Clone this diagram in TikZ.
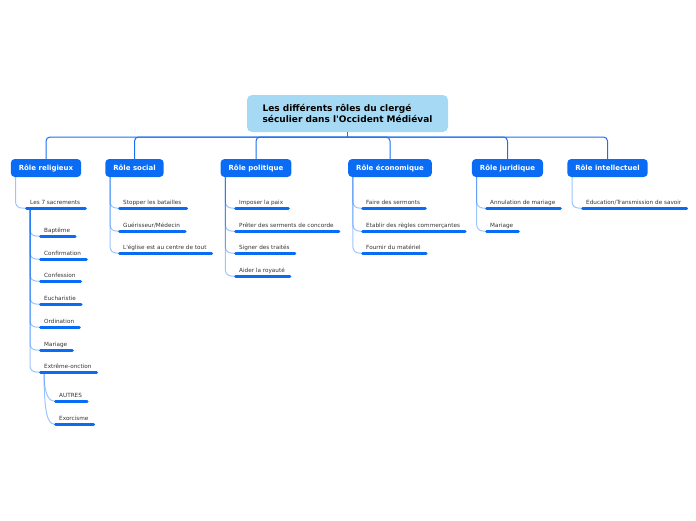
\documentclass[tikz,border=0pt]{standalone}
\usepackage{fontspec}
\setmainfont{DejaVu Sans}
\definecolor{rootblue}{HTML}{A6DAF4}
\definecolor{boxblue}{HTML}{0A6CF5}
\definecolor{busblue}{HTML}{1A70F0}
\definecolor{leafgrey}{HTML}{333333}
\tikzset{
  topic/.style={fill=rootblue, rounded corners=5pt, minimum width=201pt, minimum height=37pt,
    align=left, font=\fontsize{9}{11}\selectfont\bfseries},
  role/.style={fill=boxblue, text=white, rounded corners=4pt, minimum height=18pt,
    inner xsep=8pt, inner ysep=0pt, font=\fontsize{7}{8.5}\selectfont\bfseries},
  leaf/.style={anchor=south west, text=leafgrey, inner xsep=5pt, inner ysep=3pt,
    text height=4.5pt, text depth=0.5pt, font=\fontsize{5.7}{7}\selectfont},
  bar/.style={draw=boxblue, line width=3pt, line cap=round, shorten <=1.5pt, shorten >=0pt},
  bus/.style={draw=busblue, line width=1pt, rounded corners=4pt},
  twig/.style={draw=boxblue, draw opacity=0.4, line width=1pt, rounded corners=6pt},
}
\begin{document}
\begin{tikzpicture}[x=1pt,y=1pt,yscale=-1]
\useasboundingbox (0,0) rectangle (696,520);
%central topic
\node[topic] (root) at (347.5,113.5) {Les différents rôles du clergé\\séculier dans l\textquotesingle Occident Médiéval};
\coordinate (bus) at (347.5,137);

%roles
\node[role] (rel) at (46,168) {Rôle religieux};
\node[role] (soc) at (134.5,168) {Rôle social};
\node[role] (pol) at (256,168) {Rôle politique};
\node[role] (eco) at (390,168) {Rôle économique};
\node[role] (jur) at (507.5,168) {Rôle juridique};
\node[role] (int) at (607.5,168) {Rôle intellectuel};

%bus lines
\draw[bus] (root.south) -- (bus);
\foreach \r in {rel,soc,pol,eco,jur,int}
  \draw[bus] (bus) -| (\r.north);

%religieux
\node[leaf] (sac) at (25,208) {Les 7 sacrements};
\node[leaf] (bap) at (39,236) {Baptême};
\node[leaf] (con) at (39,259) {Confirmation};
\node[leaf] (cfs) at (39,281) {Confession};
\node[leaf] (euc) at (39,304) {Eucharistie};
\node[leaf] (ord) at (39,327) {Ordination};
\node[leaf] (mar) at (39,350) {Mariage};
\node[leaf] (ext) at (39,372) {Extrême-onction};
\node[leaf] (aut) at (54,401) {AUTRES};
\node[leaf] (exo) at (54,424) {Exorcisme};
\draw[twig] ([xshift=5pt]rel.south west) |- (sac.south west);
\foreach \n in {bap,con,cfs,euc,ord,mar,ext}
  \draw[twig] ([xshift=5pt]sac.south west) |- (\n.south west);
\draw[twig] ([xshift=5pt]ext.south west) .. controls +(0,20) and +(-6,0) .. (aut.south west);
\draw[twig] ([xshift=5pt]ext.south west) .. controls +(0,42) and +(-6,0) .. (exo.south west);

%social
\node[leaf] (sto) at (118,208) {Stopper les batailles};
\node[leaf] (gue) at (118,231) {Guérisseur/Médecin};
\node[leaf] (egl) at (118,253) {L\textquotesingle église est au centre de tout};
\foreach \n in {sto,gue,egl}
  \draw[twig] ([xshift=5pt]soc.south west) |- (\n.south west);

%politique
\node[leaf] (pai) at (234,208) {Imposer la paix};
\node[leaf] (ser) at (234,231) {Prêter des serments de concorde};
\node[leaf] (tra) at (234,253) {Signer des traités};
\node[leaf] (roy) at (234,276) {Aider la royauté};
\foreach \n in {pai,ser,tra,roy}
  \draw[twig] ([xshift=5pt]pol.south west) |- (\n.south west);

%economique
\node[leaf] (sem) at (361,208) {Faire des sermonts};
\node[leaf] (reg) at (361,231) {Etablir des règles commerçantes};
\node[leaf] (fou) at (361,253) {Fournir du matériel};
\foreach \n in {sem,reg,fou}
  \draw[twig] ([xshift=5pt]eco.south west) |- (\n.south west);

%juridique
\node[leaf] (ann) at (485,208) {Annulation de mariage};
\node[leaf] (jma) at (485,231) {Mariage};
\foreach \n in {ann,jma}
  \draw[twig] ([xshift=5pt]jur.south west) |- (\n.south west);

%intellectuel
\node[leaf] (edu) at (581,208) {Education/Transmission de savoir};
\draw[twig] ([xshift=5pt]int.south west) |- (edu.south west);

%bars
\foreach \n in {sac,bap,con,cfs,euc,ord,mar,ext,aut,exo,sto,gue,egl,pai,ser,tra,roy,sem,reg,fou,ann,jma,edu}
  \draw[bar] (\n.south west) -- (\n.south east);
\end{tikzpicture}
\end{document}
